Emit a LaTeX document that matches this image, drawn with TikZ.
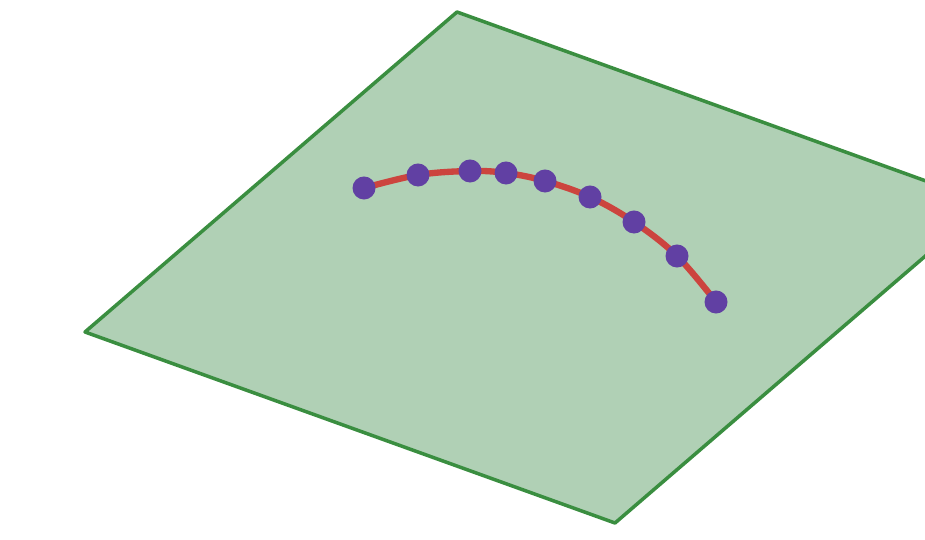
\documentclass[tikz,border=0pt]{standalone}
\usetikzlibrary{calc}
\definecolor{planefill}{RGB}{176,208,181}
\definecolor{planeedge}{RGB}{58,142,64}
\definecolor{curvered}{RGB}{204,68,62}
\definecolor{dotpurple}{RGB}{97,64,163}

\begin{document}
\begin{tikzpicture}[x=0.01cm, y=-0.01cm,
    plane/.style={draw=planeedge, line width=1.0pt, fill=planefill, line join=round},
    trace/.style={draw=curvered, line width=1.8pt, line cap=round},
    sample/.style={circle, fill=dotpurple, minimum size=0.23cm, inner sep=0pt},
]
\useasboundingbox (0,0) rectangle (925,540);
\clip (0,0) rectangle (925,540);

%---------------------------------------------------------------
% plane (right corner runs past the frame)
%---------------------------------------------------------------
\coordinate (pt) at (457,12);
\coordinate (pl) at (85,332);
\coordinate (pb) at (615,523);
\coordinate (pr) at (987,203);
\draw[plane] (pt) -- (pr) -- (pb) -- (pl) -- cycle;

%---------------------------------------------------------------
% curve on the plane, with its sample points
%---------------------------------------------------------------
\foreach \x/\y [count=\i] in {364/188, 418/175, 470/171, 506/173, 545/181,
                               590/197, 634/222, 677/256, 716/302} {
    \coordinate (c\i) at (\x,\y);
}
\draw[trace] plot[smooth, tension=0.6] coordinates
    {(c1) (c2) (c3) (c4) (c5) (c6) (c7) (c8) (c9)};
\foreach \i in {1,...,9} {
    \node[sample] (s\i) at (c\i) {};
}

\end{tikzpicture}
\end{document}
